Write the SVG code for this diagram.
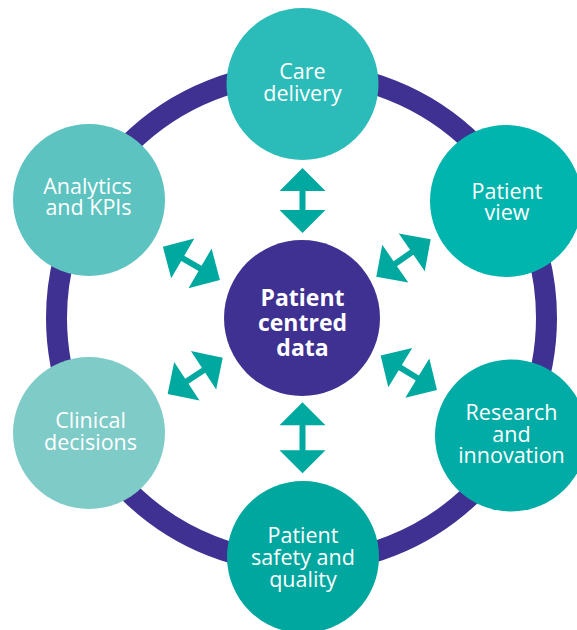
<svg xmlns="http://www.w3.org/2000/svg" width="577" height="630" viewBox="0 0 577 630">
<style>
.lbl{font-family:"Open Sans","Noto Sans","Liberation Sans",sans-serif;font-size:21.5px;fill:#ffffff;text-anchor:middle}
.ctr{font-family:"Open Sans","Noto Sans","Liberation Sans",sans-serif;font-size:23px;font-weight:bold;fill:#ffffff;text-anchor:middle}
.arr{fill:#00a99f}
</style>
<rect width="577" height="630" fill="#ffffff"/>
<g id="ring">
<circle cx="301.5" cy="318" r="245" fill="none" stroke="#3f3191" stroke-width="21"/>
</g>
<g id="connectors">
<path class="arr" transform="translate(302.5,200.5) rotate(90)" d="M -32.5 0 L -9.5 -23 L -9.5 -3 L 9.5 -3 L 9.5 -23 L 32.5 0 L 9.5 23 L 9.5 3 L -9.5 3 L -9.5 23 Z"/>
<path class="arr" transform="translate(302.5,437.8) rotate(90)" d="M -35.5 0 L -12.5 -23 L -12.5 -3 L 12.5 -3 L 12.5 -23 L 35.5 0 L 12.5 23 L 12.5 3 L -12.5 3 L -12.5 23 Z"/>
<path class="arr" transform="translate(191.4,263.4) rotate(30.2)" d="M -33 0 L -10 -23 L -10 -3 L 10 -3 L 10 -23 L 33 0 L 10 23 L 10 3 L -10 3 L -10 23 Z"/>
<path class="arr" transform="translate(195.2,375.8) rotate(-33.4)" d="M -33 0 L -10 -23 L -10 -3 L 10 -3 L 10 -23 L 33 0 L 10 23 L 10 3 L -10 3 L -10 23 Z"/>
<path class="arr" transform="translate(403.5,258) rotate(-34.5)" d="M -33 0 L -10 -23 L -10 -3 L 10 -3 L 10 -23 L 33 0 L 10 23 L 10 3 L -10 3 L -10 23 Z"/>
<path class="arr" transform="translate(408.8,372.8) rotate(31.4)" d="M -33 0 L -10 -23 L -10 -3 L 10 -3 L 10 -23 L 33 0 L 10 23 L 10 3 L -10 3 L -10 23 Z"/>
</g>
<g id="care-delivery">
<circle cx="302.5" cy="84" r="76" fill="#2bbcb9"/>
<text class="lbl" x="302.5" y="79">Care</text>
<text class="lbl" x="302.5" y="100.5">delivery</text>
</g>
<g id="patient-view">
<circle cx="506" cy="201" r="76" fill="#00b5ae"/>
<text class="lbl" x="507" y="198.5">Patient</text>
<text class="lbl" x="507" y="220">view</text>
</g>
<g id="research-innovation">
<circle cx="511" cy="435.5" r="76" fill="#00aca5"/>
<text class="lbl" x="511.5" y="420">Research</text>
<text class="lbl" x="511.5" y="441.7">and</text>
<text class="lbl" x="511.5" y="463.3">innovation</text>
</g>
<g id="patient-safety-quality">
<circle cx="303" cy="557" r="76" fill="#00a79f"/>
<text class="lbl" x="303" y="542.7">Patient</text>
<text class="lbl" x="303" y="564.7">safety and</text>
<text class="lbl" x="303" y="586.7">quality</text>
</g>
<g id="clinical-decisions">
<circle cx="89" cy="433" r="76" fill="#7fcbc8"/>
<text class="lbl" x="90.5" y="428.3">Clinical</text>
<text class="lbl" x="90.5" y="449.5">decisions</text>
</g>
<g id="analytics-kpis">
<circle cx="89" cy="200" r="76" fill="#5cc3c0"/>
<text class="lbl" x="87.5" y="194">Analytics</text>
<text class="lbl" x="88.5" y="215">and KPIs</text>
</g>
<g id="patient-centred-data">
<circle cx="302" cy="318" r="78" fill="#3f3191"/>
<text class="ctr" x="302.5" y="306">Patient</text>
<text class="ctr" x="302.5" y="331">centred</text>
<text class="ctr" x="302.5" y="355.7">data</text>
</g>
</svg>
